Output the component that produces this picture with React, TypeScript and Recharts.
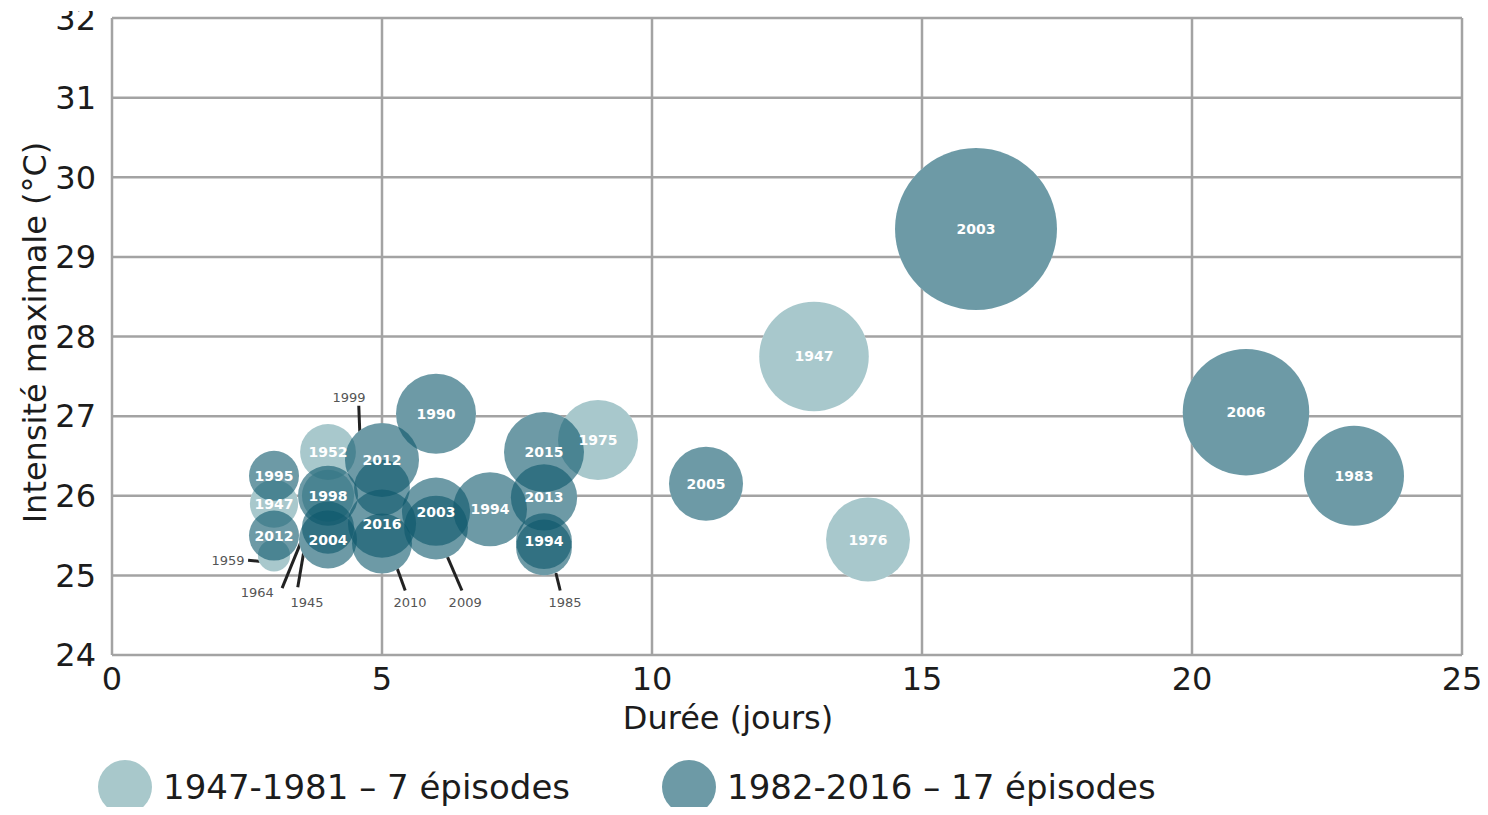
import React from "react";
import {
  ScatterChart,
  Scatter,
  XAxis,
  YAxis,
  ZAxis,
  CartesianGrid,
  ReferenceLine,
  ReferenceDot,
  LabelList,
} from "recharts";

const FONT = '"DejaVu Sans", "Liberation Sans", sans-serif';
const INK = "#1c1c1c";

// épisodes 1947-1981 (visibles)
const ancienAnnees = ["1947", "1976", "1975", "1952", "1947"];
const ancienDurees = [13, 14, 9, 4, 3];
const ancienIntensites = [27.75, 25.45, 26.7, 26.55, 25.9];
const ancienSeverites = [30, 17.6, 16, 7.8, 5.8];

// épisodes 1947-1981 cachés sous d'autres bulles
const ancienCachesAnnees = ["1964", "1959"];
const ancienCachesDurees = [4, 3];
const ancienCachesIntensites = [26.0, 25.25];
const ancienCachesSeverites = [6.8, 2.6];

// épisodes 1982-2016 (visibles)
const recentAnnees = [
  "2003", "2006", "1983", "2005", "2015", "2013", "1994", "1994",
  "2003", "1990", "2012", "2016", "1998", "2004", "1995", "2012",
];
const recentDurees = [16, 21, 23, 11, 8, 8, 8, 7, 6, 6, 5, 5, 4, 4, 3, 3];
const recentIntensites = [
  29.35, 27.05, 26.25, 26.15, 26.55, 25.98, 25.43, 25.83,
  25.8, 27.03, 26.45, 25.65, 26.0, 25.45, 26.25, 25.5,
];
const recentSeverites = [
  65.6, 40, 25, 13.7, 16, 11, 7.8, 13.7,
  11.6, 16, 13.7, 11.6, 9, 8.4, 6.25, 6.25,
];

// épisodes 1982-2016 cachés
const recentCachesAnnees = ["1999", "2010", "2009", "1985", "1945"];
const recentCachesDurees = [5, 5, 6, 8, 4];
const recentCachesIntensites = [26.1, 25.4, 25.6, 25.35, 25.6];
const recentCachesSeverites = [7.8, 9, 10.2, 7.8, 6.8];

// annotations : texte + trait vers la bulle cachée (unités des axes)
const renvois = [
  { annee: "1999", tx: 4.39, ty: 27.24, x1: 4.57, y1: 27.13, x2: 4.63, y2: 26.06 },
  { annee: "1959", tx: 2.15, ty: 25.19, x1: 2.52, y1: 25.19, x2: 2.96, y2: 25.16 },
  { annee: "1964", tx: 2.69, ty: 24.79, x1: 3.15, y1: 24.84, x2: 3.7, y2: 25.75 },
  { annee: "1945", tx: 3.61, ty: 24.66, x1: 3.44, y1: 24.85, x2: 3.61, y2: 25.53 },
  { annee: "2010", tx: 5.52, ty: 24.66, x1: 5.43, y1: 24.81, x2: 5.28, y2: 25.09 },
  { annee: "2009", tx: 6.54, ty: 24.66, x1: 6.48, y1: 24.81, x2: 6.2, y2: 25.25 },
  { annee: "1985", tx: 8.39, ty: 24.66, x1: 8.3, y1: 24.81, x2: 8.22, y2: 25.03 },
];

const xTicks = [0, 5, 10, 15, 20, 25];
const yTicks = [24, 25, 26, 27, 28, 29, 30, 31, 32];

const legende = [
  { nom: "1947-1981 – 7 épisodes", couleur: "#a8c8cb" },
  { nom: "1982-2016 – 17 épisodes", couleur: "#6d9aa6" },
];

function build(annees: string[], durees: number[], intensites: number[], severites: number[]) {
  return annees.map((annee, i) => ({
    annee,
    duree: durees[i],
    intensite: intensites[i],
    severite: severites[i],
  }));
}

const ancien = build(ancienAnnees, ancienDurees, ancienIntensites, ancienSeverites);
const ancienCaches = build(ancienCachesAnnees, ancienCachesDurees, ancienCachesIntensites, ancienCachesSeverites);
const recent = build(recentAnnees, recentDurees, recentIntensites, recentSeverites);
const recentCaches = build(recentCachesAnnees, recentCachesDurees, recentCachesIntensites, recentCachesSeverites);
const toutes = [...ancienCaches, ...recentCaches, ...ancien, ...recent];

function bulle(fill: string, opacity: number) {
  return (props: any) => {
    const r = props.size != null ? Math.sqrt(Math.max(props.size, 0) / Math.PI) : (props.width || 0) / 2;
    return <circle cx={props.cx} cy={props.cy} r={r} fill={fill} fillOpacity={opacity} />;
  };
}

const TitreX = (props: any) => {
  const vb = props.viewBox || {};
  return (
    <text
      x={vb.x + vb.width / 2 - 59}
      y={vb.y + 63}
      textAnchor="middle"
      dominantBaseline="central"
      fontSize={32}
      fontFamily={FONT}
      fill={INK}
    >
      Durée (jours)
    </text>
  );
};

const TitreY = (props: any) => {
  const vb = props.viewBox || {};
  const x = vb.x + 35;
  const y = vb.y + vb.height / 2 - 4;
  return (
    <text
      x={x}
      y={y}
      transform={`rotate(-90, ${x}, ${y})`}
      textAnchor="middle"
      dominantBaseline="central"
      fontSize={32}
      fontFamily={FONT}
      fill={INK}
    >
      Intensité maximale (°C)
    </text>
  );
};

const etiquette = { fill: "#ffffff", fontSize: 14, fontWeight: 700, fontFamily: FONT };

export default function App() {
  return (
    <div
      style={{
        position: "relative",
        width: 1488,
        height: 815,
        margin: -8,
        background: "#fff",
        overflow: "hidden",
        fontFamily: FONT,
      }}
    >
      <ScatterChart
        width={1488}
        height={745}
        margin={{ top: 18, right: 26, bottom: 0, left: 0 }}
      >
        <CartesianGrid stroke="#a3a3a3" strokeWidth={2.5} />
        <XAxis
          type="number"
          dataKey="duree"
          domain={[0, 25]}
          ticks={xTicks}
          tickLine={false}
          axisLine={false}
          tickMargin={6}
          height={90}
          tick={{ fontSize: 32, fill: INK, fontFamily: FONT }}
          label={<TitreX />}
        />
        <YAxis
          type="number"
          dataKey="intensite"
          domain={[24, 32]}
          ticks={yTicks}
          tickLine={false}
          axisLine={false}
          tickMargin={10}
          width={112}
          tick={{ fontSize: 32, fill: INK, fontFamily: FONT }}
          label={<TitreY />}
        />
        <ZAxis type="number" dataKey="severite" domain={[0, 100]} range={[0, 31416]} />

        {/* fond blanc sous les bulles pour masquer la grille */}
        <Scatter data={toutes} shape={bulle("#ffffff", 1)} legendType="none" isAnimationActive={false} />

        <Scatter data={ancienCaches} shape={bulle("#6ea3aa", 0.6)} isAnimationActive={false} />
        <Scatter data={recentCaches} shape={bulle("#0c576b", 0.6)} isAnimationActive={false} />

        <Scatter name="1947-1981" data={ancien} shape={bulle("#6ea3aa", 0.6)} isAnimationActive={false}>
          <LabelList dataKey="annee" position="center" {...etiquette} />
        </Scatter>
        <Scatter name="1982-2016" data={recent} shape={bulle("#0c576b", 0.6)} isAnimationActive={false}>
          <LabelList dataKey="annee" position="center" {...etiquette} />
        </Scatter>

        {renvois.map((r) => (
          <ReferenceLine
            key={"l" + r.annee}
            segment={[
              { x: r.x1, y: r.y1 },
              { x: r.x2, y: r.y2 },
            ]}
            stroke="#222"
            strokeWidth={3}
          />
        ))}
        {renvois.map((r) => (
          <ReferenceDot
            key={"t" + r.annee}
            x={r.tx}
            y={r.ty}
            r={0}
            fill="none"
            stroke="none"
            label={{ value: r.annee, position: "center", fill: "#555", fontSize: 13, fontFamily: FONT }}
          />
        ))}
      </ScatterChart>

      {/* haut du « 32 » rogné comme sur l'original */}
      <div style={{ position: "absolute", left: 0, top: 0, width: 112, height: 11, background: "#fff" }} />

      <div
        style={{
          position: "absolute",
          left: 98,
          top: 760,
          display: "flex",
          alignItems: "center",
          fontSize: 34,
          color: INK,
        }}
      >
        {legende.map((l, i) => (
          <div key={l.nom} style={{ display: "flex", alignItems: "center", marginRight: i === 0 ? 92 : 0 }}>
            <span
              style={{
                display: "inline-block",
                width: 54,
                height: 54,
                borderRadius: "50%",
                background: l.couleur,
                marginRight: 11,
              }}
            />
            <span>{l.nom}</span>
          </div>
        ))}
      </div>
    </div>
  );
}
